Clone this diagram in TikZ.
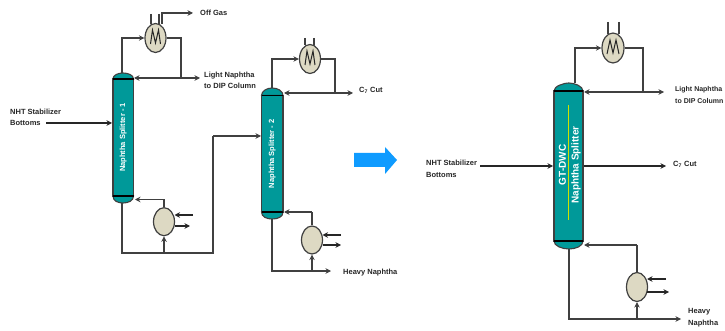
\documentclass[tikz,border=0pt]{standalone}
\usepackage{fontspec}
\setmainfont{Liberation Sans}
\usetikzlibrary{arrows.meta,shapes.geometric}
\definecolor{teal1}{HTML}{009999}
\definecolor{tan1}{HTML}{DDD9C3}
\definecolor{pipe}{HTML}{404040}
\definecolor{bigblue}{HTML}{0F9BFF}
\definecolor{divider}{HTML}{CDE100}
\tikzset{
  pipeline/.style={draw=pipe,line width=1.15pt},
  flow/.style={pipeline,-{Stealth[length=5.5pt,width=5.5pt]}},
  utility/.style={draw=black!85,line width=1.15pt,-{Stealth[length=5.5pt,width=5.5pt]}},
  vessel/.style={ellipse,draw=pipe,fill=tan1,line width=1.2pt,minimum width=21pt,minimum height=29pt,inner sep=0pt},
  column/.style={rectangle,draw=pipe,fill=teal1,line width=1.1pt,inner sep=0pt,text=white,font=\bfseries\fontsize{7.5}{8}\selectfont},
  head/.style={draw=pipe,fill=teal1,line width=1.1pt},
  plate/.style={draw=black,line width=1.2pt},
  lbl/.style={inner sep=0pt,anchor=west,align=left,text=black!85,font=\bfseries\fontsize{7.5}{11.5}\selectfont},
  coil/.style={draw=black!85,line width=1pt,line join=miter},
}
\begin{document}
\begin{tikzpicture}[x=1pt,y=-1pt]
\useasboundingbox (0,0) rectangle (725,331);

% ---------- column 1
\draw[head] (113,79) .. controls (113,75) and (118,73) .. (123,73) .. controls (128,73) and (133.5,75) .. (133.5,79) -- cycle;
\draw[head] (113,196) .. controls (113,201) and (118,203) .. (123,203) .. controls (128,203) and (133.5,201) .. (133.5,196) -- cycle;
\node[column,minimum width=20.5pt,minimum height=117pt] (colA) at (123.25,137.5) {\rotatebox{90}{Naphtha Splitter - 1}};
\coordinate (colAtop) at (122,73);
\coordinate (colAbot) at (122,203);
\coordinate (colAfeed) at (112,123);
\coordinate (colAref) at (134,78);
\coordinate (colAreb) at (135,199.5);
\draw[plate] (113,79) -- (133.5,79);
\draw[plate] (113,196) -- (133.5,196);

\node[vessel] (condA) at (155.5,38) {};
\draw[coil] (150.5,44) -- (152.5,30) -- (155.5,43) -- (158.5,30) -- (160.5,44);
\node[vessel,minimum height=28pt] (rebA) at (164,221.7) {};
\coordinate (juncA) at (181,78);
\coordinate (lnA) at (200,78);
\coordinate (offS) at (162,24);
\coordinate (offB) at (162,13);
\coordinate (offE) at (193,13);
\coordinate (pA1) at (151,14);
\coordinate (pA2) at (151,24.5);
\coordinate (pA3) at (159,14);
\coordinate (pA4) at (159,24);
\coordinate (feedAS) at (46,123);

\draw[flow] (colAtop) |- (condA.west);
\draw[pipeline] (condA.east) -| (juncA);
\draw[flow] (juncA) -- (colAref);
\draw[flow] (juncA) -- (lnA);
\draw[flow] (offS) -- (offB) -- (offE);
\draw[pipeline] (pA1) -- (pA2);
\draw[pipeline] (pA3) -- (pA4);
\draw[utility] (feedAS) -- (colAfeed);

\node[lbl] (offlbl) at (200,12.5) {Off Gas};
\node[lbl] (lnlblA) at (204,80.5) {Light Naphtha\\to DIP Column};
\node[lbl] (nhtA) at (10,117.5) {NHT Stabilizer\\Bottoms};

% bottom of column 1 and transfer to column 2
\coordinate (botA) at (122,253);
\coordinate (junB) at (164,253);
\coordinate (riseA) at (213,253);
\coordinate (colBfeed) at (261,136);
\coordinate (upA) at (213,136);
\coordinate (rebAtop) at (164,199.5);
\coordinate (utilA1) at (193,215);
\coordinate (utilA1e) at (174.5,215);
\coordinate (utilA2s) at (174.5,226);
\coordinate (utilA2) at (190,226);
\draw[pipeline] (colAbot) -- (botA) -- (riseA) -- (upA);
\draw[flow] (upA) -- (colBfeed);
\draw[flow] (junB) -- (rebA.south);
\draw[pipeline] (rebA.north) -- (rebAtop);
\draw[flow] (rebAtop) -- (colAreb);
\draw[utility] (utilA1) -- (utilA1e);
\draw[utility] (utilA2s) -- (utilA2);

% ---------- column 2
\draw[head] (261.5,95.5) .. controls (261.5,91) and (267,88) .. (272,88) .. controls (278,88) and (283,91) .. (283,95.5) -- cycle;
\draw[head] (261.5,212) .. controls (261.5,217) and (267,219) .. (272,219) .. controls (278,219) and (283,217) .. (283,212) -- cycle;
\node[column,minimum width=21.5pt,minimum height=116.5pt] (colB) at (272.25,153.75) {\rotatebox{90}{Naphtha Splitter - 2}};
\draw[plate] (261.5,95.5) -- (283,95.5);
\draw[plate] (261.5,212) -- (283,212);
\node[vessel] (condB) at (310,59) {};
\draw[coil] (305,65) -- (307,51) -- (310,64) -- (313,51) -- (315,65);
\node[vessel,minimum height=28pt] (rebB) at (312,240) {};
\coordinate (colBtop) at (272,88);
\coordinate (colBbot) at (272,219);
\coordinate (colBref) at (284,93);
\coordinate (colBreb) at (284,212);
\coordinate (juncB) at (335,93);
\coordinate (c7B) at (353,93);
\coordinate (pB1) at (305,38);
\coordinate (pB2) at (305,45.5);
\coordinate (pB3) at (314,38);
\coordinate (pB4) at (314,45.5);
\coordinate (botB) at (272,271);
\coordinate (junC) at (312,271);
\coordinate (hnB) at (331,271);
\coordinate (rebBtop) at (312,212);
\coordinate (utilB1) at (341,235);
\coordinate (utilB1e) at (322.5,235);
\coordinate (utilB2s) at (322.5,245);
\coordinate (utilB2) at (341,245);
\draw[flow] (colBtop) |- (condB.west);
\draw[pipeline] (condB.east) -| (juncB);
\draw[flow] (juncB) -- (colBref);
\draw[flow] (juncB) -- (c7B);
\draw[pipeline] (pB1) -- (pB2);
\draw[pipeline] (pB3) -- (pB4);
\draw[flow] (colBbot) -- (botB) -- (hnB);
\draw[flow] (junC) -- (rebB.south);
\draw[pipeline] (rebB.north) -- (rebBtop);
\draw[flow] (rebBtop) -- (colBreb);
\draw[utility] (utilB1) -- (utilB1e);
\draw[utility] (utilB2s) -- (utilB2);
\node[lbl] (c7lblB) at (359,90) {C$_{\mathbf 7}$ Cut};
\node[lbl] (hnlblB) at (343,273) {Heavy Naphtha};

% ---------- big arrow
\fill[bigblue] (354,153) -- (385,153) -- (385,147) -- (397,160) -- (385,174) -- (385,167) -- (354,167) -- cycle;

% ---------- column 3
\draw[head] (554,91) .. controls (554,86) and (564,83) .. (569,83) .. controls (574,83) and (583,86) .. (583,91) -- cycle;
\draw[head] (554,241) .. controls (554,246) and (562,249) .. (569,249) .. controls (576,249) and (583,246) .. (583,241) -- cycle;
\node[column,minimum width=29pt,minimum height=150pt] (colC) at (568.5,166) {};
\draw[plate] (554,91) -- (583,91);
\draw[plate] (554,241) -- (583,241);
\coordinate (divT) at (568.7,105);
\coordinate (divB) at (568.7,220);
\draw[draw=divider,line width=1.2pt] (divT) -- (divB);
\node[rotate=90,inner sep=0pt,text=white,font=\bfseries\fontsize{10}{10}\selectfont] (gtlbl) at (562.3,165) {GT-DWC};
\node[rotate=90,inner sep=0pt,text=white,font=\bfseries\fontsize{10}{10}\selectfont] (nslbl) at (576,165) {Naphtha Splitter};

\node[vessel,minimum width=22pt,minimum height=30pt] (condC) at (613,48) {};
\draw[coil] (607,54) -- (610,40) -- (613,53) -- (616,40) -- (619,54);
\node[vessel] (rebC) at (637,287) {};
\coordinate (colCtop) at (575,83);
\coordinate (colCbot) at (569,249);
\coordinate (colCref) at (584,92);
\coordinate (colCreb) at (584,245);
\coordinate (colCfeed) at (553,166);
\coordinate (feedCS) at (480,166);
\coordinate (juncC) at (643,92);
\coordinate (lnC) at (664,92);
\coordinate (c7S) at (583.5,166);
\coordinate (c7E) at (666,166);
\coordinate (pC1) at (608,22);
\coordinate (pC2) at (608,34.5);
\coordinate (pC3) at (619,22);
\coordinate (pC4) at (619,34.5);
\coordinate (botC) at (569,319);
\coordinate (junD) at (637,319);
\coordinate (hnC) at (681,319);
\coordinate (rebCtop) at (637,245);
\coordinate (utilC1) at (666,279);
\coordinate (utilC1e) at (647,279);
\coordinate (utilC2s) at (647,292);
\coordinate (utilC2) at (669,292);
\draw[flow] (colCtop) |- (condC.west);
\draw[pipeline] (condC.east) -| (juncC);
\draw[flow] (juncC) -- (colCref);
\draw[flow] (juncC) -- (lnC);
\draw[pipeline] (pC1) -- (pC2);
\draw[pipeline] (pC3) -- (pC4);
\draw[utility] (feedCS) -- (colCfeed);
\draw[utility] (c7S) -- (c7E);
\draw[flow] (colCbot) -- (botC) -- (hnC);
\draw[flow] (junD) -- (rebC.south);
\draw[pipeline] (rebC.north) -- (rebCtop);
\draw[flow] (rebCtop) -- (colCreb);
\draw[utility] (utilC1) -- (utilC1e);
\draw[utility] (utilC2s) -- (utilC2);

\node[lbl] (nhtC) at (426,169) {NHT Stabilizer\\Bottoms};
\node[lbl,font=\bfseries\fontsize{7}{11.5}\selectfont] (lnlblC) at (675,95) {Light Naphtha\\to DIP Column};
\node[lbl] (c7lblC) at (673,164) {C$_{\mathbf 7}$ Cut};
\node[lbl] (hnlblC) at (688,317.5) {Heavy\\Naphtha};
\end{tikzpicture}
\end{document}
